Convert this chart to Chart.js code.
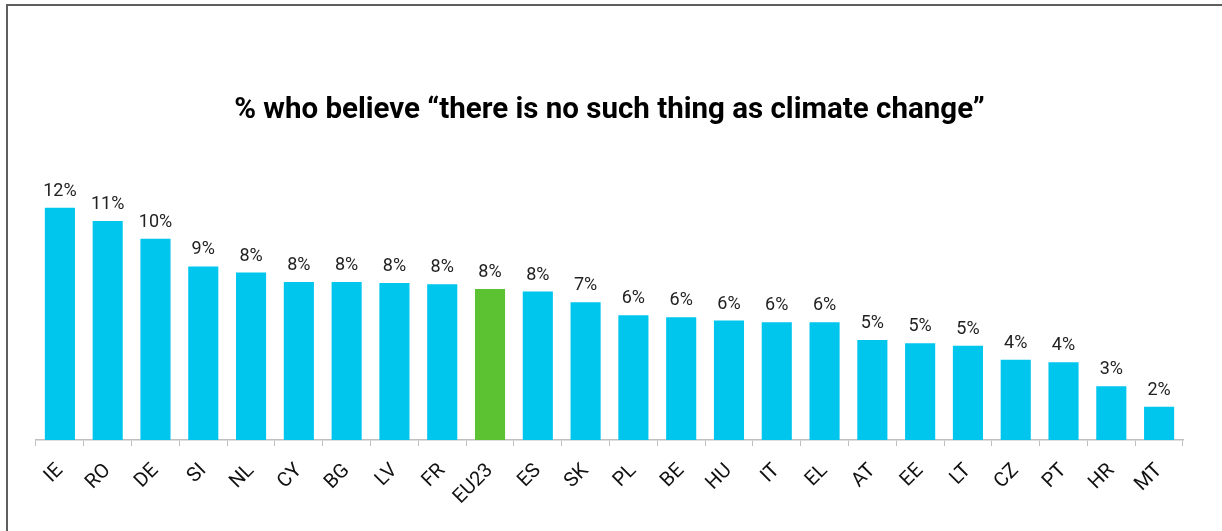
<!DOCTYPE html>
<html>
<head>
<meta charset="utf-8">
<script src="https://cdn.jsdelivr.net/npm/chart.js@4.4.1/dist/chart.umd.min.js"></script>
<style>
  html, body { margin: 0; padding: 0; background: #fff; }
  #wrap { position: relative; width: 1222px; height: 531px; overflow: hidden; }
  #frame { position: absolute; left: 6px; top: 4px; right: -10px; bottom: -10px;
           border-top: 2px solid #5e5e5e; border-left: 2px solid #5e5e5e; }
  canvas { position: absolute; left: 0; top: 0; }
</style>
</head>
<body>
<div id="wrap">
  <div id="frame"></div>
  <canvas id="myChart" width="1222" height="531"></canvas>
</div>
<script>
var countries = ["IE", "RO", "DE", "SI", "NL", "CY", "BG", "LV", "FR", "EU23", "ES", "SK",
                 "PL", "BE", "HU", "IT", "EL", "AT", "EE", "LT", "CZ", "PT", "HR", "MT"];
var shares = [11.77, 11.09, 10.2, 8.79, 8.48, 8.01, 8.01, 7.96, 7.89, 7.65, 7.52, 6.98,
              6.32, 6.22, 6.05, 5.96, 5.96, 5.07, 4.9, 4.78, 4.07, 3.94, 2.72, 1.69];
var chartTitle = "% who believe \u201cthere is no such thing as climate change\u201d";
var averageLabel = "EU23";

var blue = "#00C6EE";
var green = "#5CC232";
var barColors = countries.map(function (c) { return c === averageLabel ? green : blue; });

// draws the "12%" style labels on top of each bar
var valueLabels = {
    id: "valueLabels",
    afterDatasetsDraw: function (chart) {
        var ctx = chart.ctx;
        var meta = chart.getDatasetMeta(0);
        ctx.save();
        ctx.font = "18px Roboto";
        ctx.fillStyle = "#222";
        ctx.textAlign = "center";
        ctx.textBaseline = "alphabetic";
        meta.data.forEach(function (bar, i) {
            ctx.fillText(Math.round(shares[i]) + "%", bar.x, bar.y - 12);
        });
        ctx.restore();
    }
};

var ctx = document.getElementById("myChart").getContext("2d");
var myChart = new Chart(ctx, {
    type: "bar",
    data: {
        labels: countries,
        datasets: [{
            data: shares,
            backgroundColor: barColors,
            borderWidth: 0,
            barPercentage: 0.63,
            categoryPercentage: 1
        }]
    },
    options: {
        responsive: false,
        animation: false,
        layout: { padding: { left: 36, right: 39, top: 0, bottom: 0 } },
        plugins: {
            legend: { display: false },
            tooltip: { enabled: false },
            title: {
                display: true,
                text: chartTitle,
                color: "#000",
                font: { family: "Roboto", size: 29.5, weight: "bold" },
                padding: { top: 93, bottom: 55 }
            }
        },
        scales: {
            x: {
                afterFit: function (scale) { scale.height = 91; },
                border: { display: true, color: "#bfbfbf", width: 1.5 },
                grid: { display: true, drawOnChartArea: false, drawTicks: true,
                        tickLength: 6, color: "#bfbfbf", offset: true },
                ticks: { color: "#111", font: { family: "Roboto", size: 20 },
                         minRotation: 45, maxRotation: 45, padding: 13 }
            },
            y: {
                display: false,
                min: 0,
                max: 13
            }
        }
    },
    plugins: [valueLabels]
});
</script>
</body>
</html>
